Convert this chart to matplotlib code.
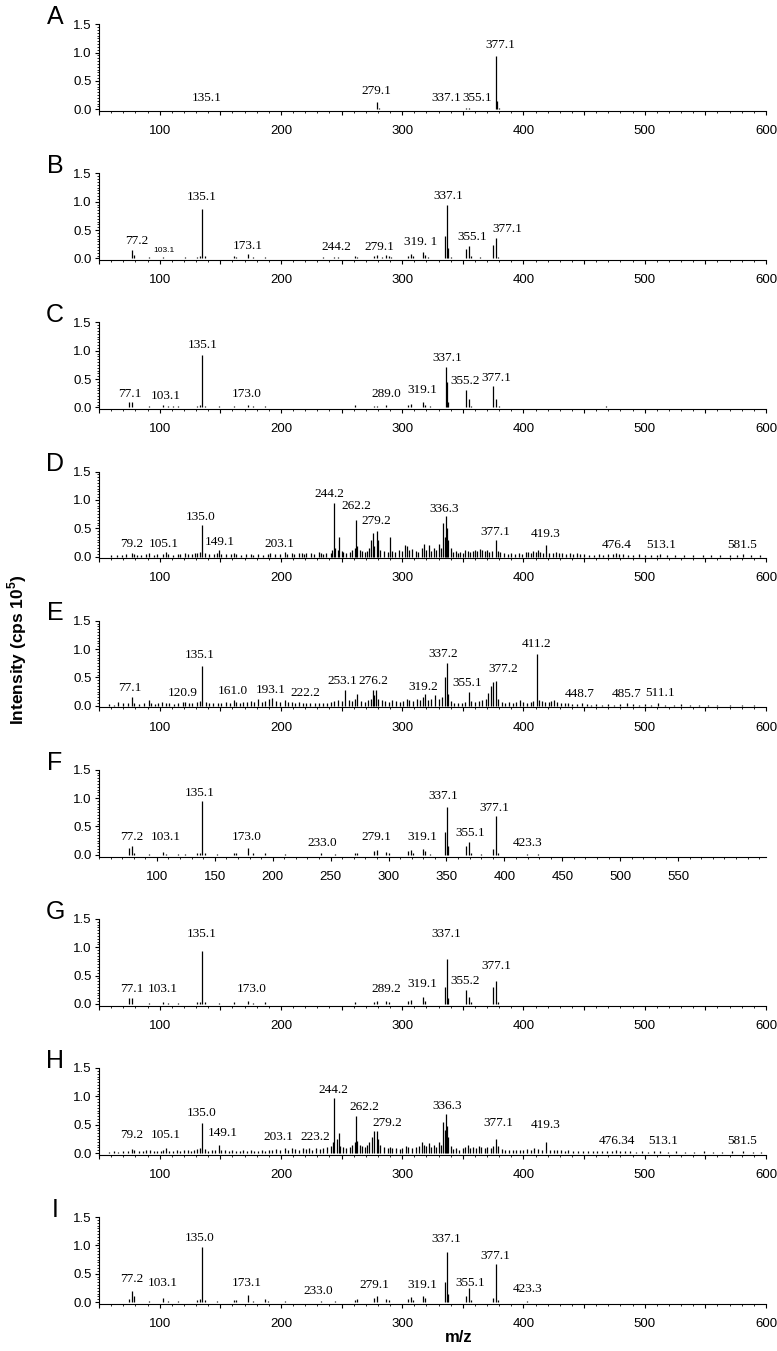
import matplotlib
matplotlib.use("Agg")
import matplotlib.pyplot as plt
from matplotlib.ticker import MultipleLocator, FuncFormatter, FixedLocator

# ---------------- data ----------------
A_peaks = [(135, 0.01), (210, 0.004), (279, 0.12), (281, 0.03), (300, 0.01), (337, 0.01),
           (353, 0.02), (355, 0.02), (377, 0.94), (378, 0.15), (380, 0.03)]
A_labels = ["135.1", "279.1", "337.1", "355.1", "377.1"]
A_lx = [139, 279, 336, 361.5, 381]
A_ly = [0.1, 0.21, 0.1, 0.1, 1.02]

B_peaks = [(77, 0.15), (79, 0.06), (91, 0.02), (103, 0.03), (107, 0.01), (115, 0.01), (121, 0.02),
           (131, 0.03), (133, 0.05), (135, 0.88), (137, 0.04), (145, 0.01), (161, 0.04), (163, 0.03),
           (173, 0.07), (177, 0.02), (187, 0.02), (235, 0.02), (244, 0.03), (247, 0.02), (261, 0.04),
           (263, 0.03), (277, 0.05), (279, 0.06), (283, 0.02), (287, 0.06), (289, 0.05), (291, 0.02),
           (305, 0.05), (307, 0.08), (309, 0.04), (317, 0.12), (319, 0.06), (321, 0.02), (335, 0.4),
           (337, 0.94), (338, 0.18), (340, 0.02), (353, 0.16), (355, 0.22), (357, 0.04), (364, 0.02),
           (375, 0.24), (377, 0.36), (379, 0.03), (392, 0.01), (396, 0.01)]
B_labels = ["77.2", "103.1", "135.1", "173.1", "244.2", "279.1", "319. 1", "337.1", "355.1", "377.1"]
B_lx = [81, 103.5, 135, 173, 246, 281.5, 315, 338, 357.5, 387]
B_ly = [0.21, 0.07, 0.97, 0.12, 0.1, 0.1, 0.18, 1.0, 0.28, 0.42]

C_peaks = [(75, 0.1), (77, 0.1), (91, 0.02), (103, 0.04), (107, 0.02), (111, 0.02), (115, 0.02),
           (131, 0.02), (133, 0.05), (135, 0.93), (137, 0.03), (149, 0.02), (161, 0.03), (173, 0.05),
           (177, 0.02), (187, 0.03), (245, 0.01), (261, 0.04), (277, 0.03), (279, 0.03), (287, 0.04),
           (305, 0.05), (307, 0.07), (317, 0.1), (319, 0.05), (323, 0.02), (336, 0.72), (337, 0.45),
           (338, 0.1), (353, 0.3), (355, 0.15), (357, 0.03), (375, 0.38), (377, 0.15), (380, 0.03),
           (435, 0.01), (468, 0.02), (482, 0.01)]
C_labels = ["77.1", "103.1", "135.1", "173.0", "289.0", "319.1", "337.1", "355.2", "377.1"]
C_lx = [75, 105, 135.5, 172, 287, 317, 337, 351.5, 378]
C_ly = [0.14, 0.1, 0.99, 0.14, 0.14, 0.2, 0.76, 0.37, 0.42]

D_peaks = [(60, 0.02), (65, 0.03), (69, 0.02), (72, 0.04), (77, 0.06), (79, 0.05), (81, 0.03), (85, 0.02),
           (89, 0.05), (91, 0.06), (95, 0.03), (98, 0.04), (103, 0.05), (105, 0.08), (107, 0.04), (111, 0.03),
           (115, 0.05), (117, 0.04), (121, 0.06), (123, 0.05), (127, 0.04), (129, 0.06), (131, 0.07), (133, 0.08),
           (135, 0.55), (137, 0.06), (141, 0.04), (145, 0.05), (147, 0.06), (149, 0.12), (151, 0.05), (155, 0.04),
           (159, 0.05), (161, 0.06), (163, 0.04), (167, 0.03), (171, 0.04), (175, 0.05), (177, 0.03), (181, 0.04),
           (185, 0.03), (189, 0.05), (191, 0.06), (195, 0.04), (199, 0.05), (203, 0.08), (205, 0.05), (209, 0.06),
           (211, 0.05), (215, 0.07), (217, 0.06), (219, 0.05), (221, 0.07), (225, 0.06), (227, 0.05), (231, 0.08),
           (233, 0.06), (235, 0.05), (237, 0.07), (241, 0.06), (242, 0.12), (244, 0.95), (245, 0.15), (247, 0.12),
           (248, 0.35), (250, 0.1), (251, 0.08), (254, 0.06), (257, 0.08), (259, 0.12), (261, 0.15), (262, 0.65),
           (263, 0.18), (265, 0.12), (267, 0.1), (269, 0.08), (271, 0.1), (273, 0.15), (274, 0.3), (276, 0.42),
           (277, 0.18), (279, 0.45), (280, 0.3), (282, 0.12), (285, 0.1), (288, 0.08), (290, 0.35), (292, 0.1),
           (294, 0.08), (297, 0.12), (300, 0.1), (302, 0.2), (304, 0.18), (306, 0.12), (308, 0.14), (311, 0.1),
           (313, 0.08), (316, 0.15), (318, 0.22), (320, 0.12), (322, 0.2), (324, 0.1), (326, 0.16), (328, 0.12),
           (330, 0.22), (332, 0.15), (334, 0.6), (335, 0.35), (336, 0.72), (337, 0.5), (338, 0.3), (340, 0.15),
           (342, 0.08), (344, 0.1), (346, 0.06), (348, 0.08), (350, 0.07), (352, 0.12), (354, 0.1), (356, 0.08),
           (358, 0.1), (360, 0.12), (362, 0.1), (364, 0.14), (366, 0.12), (368, 0.1), (370, 0.12), (372, 0.08),
           (374, 0.1), (377, 0.3), (379, 0.1), (381, 0.08), (384, 0.06), (387, 0.05), (390, 0.07), (393, 0.05),
           (396, 0.07), (399, 0.05), (402, 0.08), (404, 0.09), (406, 0.07), (408, 0.1), (410, 0.08), (412, 0.12),
           (414, 0.09), (416, 0.07), (419, 0.2), (421, 0.07), (424, 0.06), (427, 0.08), (429, 0.07), (432, 0.06),
           (435, 0.05), (438, 0.06), (441, 0.05), (444, 0.06), (447, 0.04), (450, 0.04), (454, 0.03), (458, 0.03),
           (462, 0.04), (466, 0.03), (470, 0.04), (474, 0.05), (476, 0.06), (479, 0.05), (482, 0.04), (486, 0.03),
           (490, 0.03), (495, 0.04), (500, 0.02), (505, 0.03), (510, 0.03), (513, 0.04), (518, 0.02), (525, 0.03),
           (532, 0.02), (540, 0.02), (548, 0.03), (555, 0.02), (562, 0.02), (570, 0.03), (576, 0.02), (581, 0.04),
           (588, 0.02), (595, 0.02)]
D_labels = ["79.2", "105.1", "135.0", "149.1", "203.1", "244.2", "262.2", "279.2", "336.3", "377.1",
            "419.3", "476.4", "513.1", "581.5"]
D_lx = [77, 103.5, 134, 149.5, 199, 240, 262, 279, 334.5, 376.5, 418.5, 477, 513.5, 580]
D_ly = [0.12, 0.12, 0.6, 0.16, 0.12, 1.0, 0.78, 0.53, 0.74, 0.33, 0.3, 0.1, 0.1, 0.1]

E_peaks = [(58, 0.03), (62, 0.02), (66, 0.06), (70, 0.04), (74, 0.05), (77, 0.15), (79, 0.05), (83, 0.03),
           (87, 0.04), (91, 0.1), (93, 0.05), (96, 0.03), (99, 0.04), (102, 0.06), (105, 0.05), (108, 0.04),
           (112, 0.03), (115, 0.05), (119, 0.06), (121, 0.07), (124, 0.04), (127, 0.05), (131, 0.06), (133, 0.08),
           (135, 0.7), (138, 0.06), (141, 0.04), (144, 0.05), (148, 0.04), (151, 0.05), (155, 0.06), (158, 0.04),
           (161, 0.1), (163, 0.06), (166, 0.05), (169, 0.06), (172, 0.07), (175, 0.08), (178, 0.06), (181, 0.12),
           (184, 0.06), (187, 0.08), (190, 0.12), (193, 0.14), (196, 0.08), (199, 0.06), (203, 0.1), (206, 0.07),
           (209, 0.06), (212, 0.05), (215, 0.06), (218, 0.05), (221, 0.04), (224, 0.05), (228, 0.04), (231, 0.05),
           (235, 0.04), (238, 0.05), (241, 0.06), (244, 0.08), (247, 0.1), (250, 0.08), (253, 0.27), (256, 0.1),
           (259, 0.08), (261, 0.12), (263, 0.2), (266, 0.08), (269, 0.06), (272, 0.1), (274, 0.12), (276, 0.28),
           (277, 0.18), (278, 0.28), (280, 0.12), (283, 0.1), (286, 0.08), (289, 0.06), (292, 0.1), (295, 0.08),
           (298, 0.06), (301, 0.08), (304, 0.12), (306, 0.1), (309, 0.08), (312, 0.12), (315, 0.1), (317, 0.15),
           (319, 0.2), (321, 0.1), (324, 0.12), (327, 0.18), (330, 0.12), (333, 0.15), (335, 0.5), (337, 0.76),
           (338, 0.2), (340, 0.08), (343, 0.05), (346, 0.04), (349, 0.05), (352, 0.06), (355, 0.25), (357, 0.08),
           (360, 0.06), (363, 0.08), (366, 0.1), (369, 0.12), (371, 0.22), (373, 0.35), (375, 0.42), (377, 0.43),
           (379, 0.12), (382, 0.06), (385, 0.05), (388, 0.06), (391, 0.05), (394, 0.07), (397, 0.1), (400, 0.06),
           (403, 0.05), (406, 0.07), (408, 0.08), (411, 0.92), (413, 0.1), (415, 0.08), (418, 0.07), (421, 0.06),
           (423, 0.08), (425, 0.1), (428, 0.07), (431, 0.05), (434, 0.04), (437, 0.04), (440, 0.03), (444, 0.03),
           (448, 0.04), (452, 0.03), (456, 0.02), (460, 0.03), (465, 0.02), (470, 0.03), (475, 0.02), (480, 0.03),
           (485, 0.04), (490, 0.03), (495, 0.02), (500, 0.03), (505, 0.02), (511, 0.04), (517, 0.02), (524, 0.02),
           (530, 0.03), (537, 0.02), (545, 0.02), (552, 0.02), (560, 0.02), (570, 0.02), (580, 0.02), (590, 0.02)]
E_labels = ["77.1", "120.9", "135.1", "161.0", "193.1", "222.2", "253.1", "276.2", "319.2", "337.2",
            "355.1", "377.2", "411.2", "448.7", "485.7", "511.1"]
E_lx = [75, 119, 133, 160.5, 192, 220, 251, 276, 317, 334, 354, 383, 410.5, 446.5, 485, 512.5]
E_ly = [0.21, 0.12, 0.78, 0.16, 0.17, 0.12, 0.33, 0.33, 0.22, 0.8, 0.3, 0.55, 0.99, 0.1, 0.1, 0.11]

F_peaks = [(75, 0.12), (77, 0.15), (79, 0.04), (91, 0.02), (103, 0.05), (105, 0.02), (115, 0.02), (121, 0.02),
           (131, 0.03), (133, 0.04), (135, 0.95), (137, 0.04), (147, 0.02), (161, 0.04), (163, 0.03), (173, 0.12),
           (177, 0.03), (187, 0.04), (203, 0.01), (233, 0.03), (245, 0.02), (261, 0.04), (263, 0.03), (277, 0.06),
           (279, 0.08), (287, 0.05), (289, 0.04), (305, 0.06), (307, 0.08), (309, 0.04), (317, 0.1), (319, 0.07),
           (323, 0.02), (335, 0.4), (337, 0.85), (338, 0.15), (353, 0.15), (355, 0.22), (357, 0.04), (365, 0.02),
           (375, 0.1), (377, 0.68), (379, 0.04), (403, 0.02), (412, 0.01)]
F_labels = ["77.2", "103.1", "135.1", "173.0", "233.0", "279.1", "319.1", "337.1", "355.1", "377.1", "423.3"]
F_lx = [77, 105, 133, 172, 234, 278.5, 317, 334, 356, 376, 403]
F_ly = [0.21, 0.2, 0.99, 0.21, 0.1, 0.2, 0.2, 0.93, 0.28, 0.72, 0.1]
F_ticklabels = [100, 150, 200, 250, 300, 350, 400, 450, 500, 550]

G_peaks = [(75, 0.1), (77, 0.1), (91, 0.02), (103, 0.04), (107, 0.02), (115, 0.02), (131, 0.03), (133, 0.04),
           (135, 0.93), (137, 0.03), (149, 0.02), (161, 0.03), (173, 0.05), (177, 0.02), (187, 0.03), (261, 0.03),
           (277, 0.04), (279, 0.05), (287, 0.05), (289, 0.04), (305, 0.05), (307, 0.07), (317, 0.12), (319, 0.05),
           (335, 0.3), (337, 0.8), (338, 0.1), (353, 0.25), (355, 0.12), (357, 0.03), (375, 0.3), (377, 0.4),
           (379, 0.03)]
G_labels = ["77.1", "103.1", "135.1", "173.0", "289.2", "319.1", "337.1", "355.2", "377.1"]
G_lx = [77, 103, 135, 176, 287, 317, 336, 352, 378]
G_ly = [0.16, 0.16, 1.13, 0.16, 0.16, 0.25, 1.13, 0.3, 0.56]

H_peaks = [(58, 0.02), (62, 0.03), (66, 0.02), (70, 0.04), (74, 0.03), (77, 0.07), (79, 0.06), (83, 0.03),
           (86, 0.04), (89, 0.06), (92, 0.05), (95, 0.03), (98, 0.04), (101, 0.03), (103, 0.05), (105, 0.09),
           (108, 0.04), (111, 0.03), (114, 0.05), (117, 0.04), (120, 0.06), (123, 0.05), (126, 0.04), (128, 0.06),
           (131, 0.07), (133, 0.08), (135, 0.53), (137, 0.07), (140, 0.04), (143, 0.05), (146, 0.06), (149, 0.15),
           (151, 0.05), (154, 0.06), (157, 0.04), (160, 0.05), (163, 0.04), (166, 0.03), (169, 0.05), (172, 0.04),
           (175, 0.05), (178, 0.04), (181, 0.03), (184, 0.05), (187, 0.04), (190, 0.06), (193, 0.05), (196, 0.07),
           (199, 0.06), (203, 0.08), (206, 0.06), (209, 0.08), (212, 0.07), (215, 0.06), (218, 0.08), (221, 0.07),
           (223, 0.09), (226, 0.06), (229, 0.08), (232, 0.07), (235, 0.08), (238, 0.1), (241, 0.12), (243, 0.2),
           (244, 0.97), (246, 0.25), (248, 0.36), (249, 0.12), (251, 0.1), (254, 0.08), (257, 0.1), (259, 0.14),
           (261, 0.2), (262, 0.65), (263, 0.22), (265, 0.15), (267, 0.12), (269, 0.1), (271, 0.14), (273, 0.2),
           (275, 0.28), (277, 0.38), (279, 0.39), (280, 0.25), (282, 0.15), (285, 0.1), (288, 0.09), (290, 0.1),
           (292, 0.08), (295, 0.08), (298, 0.07), (300, 0.08), (303, 0.12), (305, 0.1), (308, 0.08), (311, 0.1),
           (314, 0.12), (316, 0.2), (318, 0.15), (320, 0.12), (322, 0.18), (324, 0.1), (326, 0.14), (328, 0.1),
           (330, 0.2), (332, 0.15), (334, 0.55), (335, 0.4), (336, 0.69), (337, 0.48), (338, 0.28), (340, 0.12),
           (342, 0.07), (344, 0.08), (347, 0.06), (350, 0.08), (352, 0.1), (354, 0.15), (356, 0.08), (358, 0.1),
           (361, 0.09), (363, 0.12), (365, 0.1), (368, 0.09), (370, 0.1), (373, 0.08), (375, 0.12), (377, 0.25),
           (379, 0.12), (382, 0.07), (385, 0.06), (388, 0.05), (391, 0.06), (394, 0.05), (397, 0.06), (400, 0.05),
           (403, 0.07), (406, 0.06), (409, 0.08), (412, 0.07), (415, 0.06), (419, 0.2), (422, 0.06), (425, 0.05),
           (428, 0.06), (431, 0.05), (434, 0.04), (437, 0.05), (441, 0.04), (445, 0.03), (449, 0.04), (453, 0.03),
           (457, 0.03), (461, 0.04), (465, 0.03), (469, 0.04), (473, 0.03), (476, 0.05), (480, 0.03), (484, 0.04),
           (488, 0.03), (493, 0.02), (498, 0.03), (503, 0.02), (508, 0.03), (513, 0.04), (519, 0.02), (526, 0.03),
           (533, 0.02), (541, 0.02), (549, 0.03), (556, 0.02), (564, 0.02), (572, 0.03), (581, 0.04), (589, 0.02),
           (596, 0.02)]
H_labels = ["79.2", "105.1", "135.0", "149.1", "203.1", "223.2", "244.2", "262.2", "279.2", "336.3",
            "377.1", "419.3", "476.34", "513.1", "581.5"]
H_lx = [77, 105, 135, 152, 197.5, 228, 243, 269, 288, 337, 379.5, 418.5, 477, 515, 580]
H_ly = [0.21, 0.21, 0.6, 0.25, 0.18, 0.18, 1.0, 0.7, 0.42, 0.72, 0.42, 0.38, 0.1, 0.1, 0.1]

I_peaks = [(75, 0.06), (77, 0.19), (79, 0.1), (91, 0.02), (103, 0.07), (107, 0.02), (115, 0.02), (131, 0.04),
           (133, 0.06), (135, 0.97), (137, 0.04), (147, 0.02), (161, 0.04), (163, 0.03), (173, 0.13), (177, 0.02),
           (187, 0.06), (189, 0.02), (203, 0.02), (233, 0.02), (245, 0.02), (261, 0.04), (263, 0.06), (277, 0.07),
           (279, 0.1), (287, 0.05), (289, 0.04), (305, 0.06), (307, 0.09), (309, 0.04), (317, 0.1), (319, 0.07),
           (335, 0.35), (337, 0.88), (338, 0.15), (353, 0.1), (355, 0.25), (357, 0.04), (375, 0.08), (377, 0.67),
           (379, 0.04), (403, 0.02), (423, 0.01)]
I_labels = ["77.2", "103.1", "135.0", "173.1", "233.0", "279.1", "319.1", "337.1", "355.1", "377.1", "423.3"]
I_lx = [77, 103, 133, 171.5, 230.5, 277, 317, 336, 356, 376.5, 403]
I_ly = [0.3, 0.23, 1.02, 0.23, 0.09, 0.2, 0.2, 1.0, 0.23, 0.7, 0.12]

letters = ["A", "B", "C", "D", "E", "F", "G", "H", "I"]
panels = [
    (A_peaks, A_labels, A_lx, A_ly),
    (B_peaks, B_labels, B_lx, B_ly),
    (C_peaks, C_labels, C_lx, C_ly),
    (D_peaks, D_labels, D_lx, D_ly),
    (E_peaks, E_labels, E_lx, E_ly),
    (F_peaks, F_labels, F_lx, F_ly),
    (G_peaks, G_labels, G_lx, G_ly),
    (H_peaks, H_labels, H_lx, H_ly),
    (I_peaks, I_labels, I_lx, I_ly),
]

# ---------------- figure ----------------
W, H = 777, 1351
fig = plt.figure(figsize=(W / 100, H / 100), dpi=100)

sans = "Liberation Sans"
serif = "Liberation Serif"

left_px, right_px = 99, 766
ax_h_px = 86.7
first_bottom = 111
step = 149.1

# F panel axis uses its own (compressed) labelling
F_ratio = 0.955

for i, (peaks, labs, lx, ly) in enumerate(panels):
    bottom_px = first_bottom + i * step
    ax = fig.add_axes([left_px / W, 1 - bottom_px / H, (right_px - left_px) / W, ax_h_px / H])
    mz = [p[0] for p in peaks]
    inten = [p[1] for p in peaks]
    ax.vlines(mz, 0, inten, colors="black", linewidth=0.9)
    ax.set_xlim(50, 600)
    ax.set_ylim(-0.03, 1.5)
    for s in ("top", "right"):
        ax.spines[s].set_visible(False)
    ax.spines["left"].set_bounds(-0.03, 1.5)
    for s in ("left", "bottom"):
        ax.spines[s].set_linewidth(0.8)
    ax.yaxis.set_major_locator(FixedLocator([0.0, 0.5, 1.0, 1.5]))
    ax.yaxis.set_minor_locator(MultipleLocator(0.05))
    ax.yaxis.set_major_formatter(FuncFormatter(lambda v, p: f"{v:.1f}"))
    if letters[i] == "F":
        maj = [50 + (t - 50) * F_ratio for t in F_ticklabels]
        mino = [50 + (t - 50) * F_ratio for t in range(50, 630, 10)]
        ax.xaxis.set_major_locator(FixedLocator(maj))
        ax.xaxis.set_minor_locator(FixedLocator([m for m in mino if m <= 600]))
        ax.set_xticklabels([str(t) for t in F_ticklabels])
    else:
        ax.xaxis.set_major_locator(MultipleLocator(50))
        ax.xaxis.set_minor_locator(MultipleLocator(10))
        ax.xaxis.set_major_formatter(FuncFormatter(
            lambda v, p: f"{int(round(v))}" if int(round(v)) % 100 == 0 and v > 60 else ""))
    ax.tick_params(axis="both", which="major", direction="out", length=3.2, width=0.8,
                   labelsize=9.5, pad=2)
    ax.tick_params(axis="both", which="minor", direction="out", length=1.6, width=0.6)
    ax.tick_params(axis="x", which="major", pad=7)
    for lab in ax.get_xticklabels() + ax.get_yticklabels():
        lab.set_fontfamily(sans)
    for t, x, y in zip(labs, lx, ly):
        if letters[i] == "B" and t == "103.1":
            ax.text(x, y, t, ha="center", va="bottom", fontsize=6, family=sans, clip_on=False)
        else:
            ax.text(x, y, t, ha="center", va="bottom", fontsize=9.5, family=serif, clip_on=False)
    fig.text(55 / W, 1 - (bottom_px - 94) / H, letters[i], ha="center", va="center",
             fontsize=18, family=sans)

fig.text(17 / W, 1 - 650 / H, "Intensity (cps 10$^{\\mathregular{5}}$)", rotation=90,
         ha="center", va="center", fontsize=12.5, fontweight="bold", family=sans)
fig.text(459 / W, 1 - 1337 / H, "m/z", ha="center", va="center", fontsize=12,
         fontweight="bold", family=sans)

fig.savefig("out.png", dpi=100)
